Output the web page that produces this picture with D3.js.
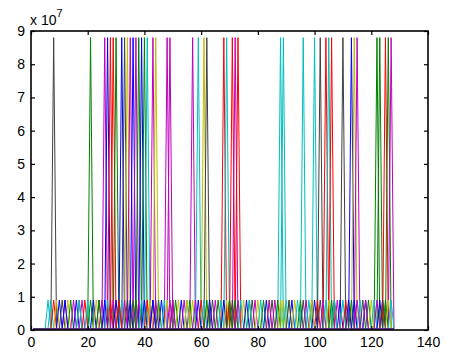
<!DOCTYPE html>
<html>
<head>
<meta charset="utf-8">
<script src="https://cdn.jsdelivr.net/npm/d3@7"></script>
<style>
  body { margin: 0; background: #fff; }
  text { font-family: "Liberation Sans", Arial, sans-serif; }
</style>
</head>
<body>
<div id="plot"></div>
<script>
var svgWidth = 449;
var svgHeight = 354;

var margin = { top: 31, right: 21, bottom: 24, left: 31 };

var chartWidth = svgWidth - margin.left - margin.right;
var chartHeight = svgHeight - margin.top - margin.bottom;

// samples run 1..128
var nSamples = 128;

// tall peaks: position + colour letter (matlab colour order)
var bigX = [8, 21, 26, 27, 28, 29, 30, 32, 33, 34, 35, 36, 37, 38, 39, 40, 41, 43, 44, 48, 49,
  57, 59, 61, 62, 68, 69, 71, 72, 73, 88, 89, 96, 100, 102, 104, 105, 106, 110, 113, 114, 115,
  122, 123, 125, 126, 127];
var bigC = ["k", "g", "m", "b", "r", "r", "g", "b", "k", "y", "m", "b", "m", "g", "b", "g", "c", "m", "y", "m", "m",
  "m", "c", "y", "k", "r", "c", "r", "m", "r", "c", "c", "c", "c", "k", "r", "c", "r", "k", "b", "y", "m",
  "g", "g", "r", "g", "m"];
var bigPeak = 8.8e7;

// small peaks that fill the band near 1e7
var smallX = [6, 7, 8, 9, 10, 11, 12, 13, 14, 15, 16, 17, 18, 19, 20, 21, 22, 23, 24, 25, 26, 27, 28, 29, 30,
  31, 32, 33, 34, 35, 36, 37, 38, 39, 40, 41, 42, 43, 44, 45, 46, 47, 48, 49, 50, 51, 52, 53, 54, 55,
  56, 57, 58, 59, 60, 61, 62, 63, 64, 65, 66, 67, 68, 69, 70, 71, 72, 73, 74, 75, 76, 77, 78, 79, 80,
  81, 82, 83, 84, 85, 86, 87, 88, 89, 90, 91, 92, 93, 94, 95, 96, 97, 98, 99, 100, 101, 102, 103, 104, 105,
  106, 107, 108, 109, 110, 111, 112, 113, 114, 115, 116, 117, 118, 119, 120, 121, 122, 123, 124, 125, 126, 127,
  12, 17, 24, 31, 36, 43, 50, 55, 63, 70, 77, 84, 91, 99, 107, 112, 118, 124];
var smallC = ["c", "c", "r", "y", "b", "k", "m", "y", "g", "m", "b", "k", "m", "r", "c", "g", "b", "y", "k", "m", "b", "c", "r", "m", "b",
  "g", "c", "m", "k", "b", "y", "g", "m", "c", "b", "r", "y", "k", "m", "g", "b", "c", "y", "m", "k",
  "g", "y", "b", "m", "c", "g", "y", "m", "b", "r", "c", "g", "y", "k", "m", "g", "c", "b", "y", "r",
  "k", "g", "m", "c", "y", "b", "g", "k", "m", "y", "c", "g", "b", "y", "k", "m", "g", "y", "y", "c",
  "y", "b", "y", "c", "g", "k", "m", "c", "g", "b", "r", "k", "m", "c", "y", "g", "k", "m", "b", "c",
  "r", "y", "g", "b", "m", "c", "k", "b", "g", "y", "c", "m", "b", "r", "g", "y", "c",
  "b", "c", "g", "r", "k", "b", "m", "y", "b", "g", "c", "m", "k", "y", "c", "b", "m", "k"];
var smallPeak = 0.9e7;

var baseLevel = 0.03e7;

var colors = { b: "#0000ff", g: "#008000", r: "#ff0000", c: "#00bfbf", m: "#bf00bf", y: "#bfbf00", k: "#404040" };

var xTicks = [0, 20, 40, 60, 80, 100, 120, 140];
var yTicks = [0, 1, 2, 3, 4, 5, 6, 7, 8, 9];

// one series per peak, flat at baseLevel elsewhere
function makeSeries(pos, peak) {
  var pts = [];
  for (var i = 1; i <= nSamples; i++) {
    pts.push({ x: i, y: i === pos ? peak : baseLevel });
  }
  return pts;
}

var series = [];
bigX.forEach(function(p, i) { series.push({ color: colors[bigC[i]], values: makeSeries(p, bigPeak) }); });
smallX.forEach(function(p, i) { series.push({ color: colors[smallC[i]], values: makeSeries(p, smallPeak) }); });

var svg = d3.select("#plot")
  .append("svg")
  .attr("width", svgWidth)
  .attr("height", svgHeight);

svg.append("rect").attr("width", svgWidth).attr("height", svgHeight).attr("fill", "#fff");

var chartGroup = svg.append("g")
  .attr("transform", `translate(${margin.left}, ${margin.top})`);

var xScale = d3.scaleLinear().domain([0, 140]).range([0, chartWidth]);
var yScale = d3.scaleLinear().domain([0, 9e7]).range([chartHeight, 0]);

chartGroup.append("clipPath").attr("id", "clip")
  .append("rect").attr("width", chartWidth).attr("height", chartHeight);

var line = d3.line()
  .x(d => xScale(d.x))
  .y(d => yScale(d.y));

chartGroup.append("g")
  .attr("clip-path", "url(#clip)")
  .selectAll("path")
  .data(series)
  .enter()
  .append("path")
  .attr("d", d => line(d.values))
  .attr("fill", "none")
  .attr("stroke", d => d.color)
  .attr("stroke-width", 1);

// axes, ticks pointing inward like matlab
var xAxis = d3.axisBottom(xScale).tickValues(xTicks).tickSizeInner(-4).tickSizeOuter(0).tickPadding(7);
var yAxis = d3.axisLeft(yScale).tickValues(yTicks.map(v => v * 1e7)).tickFormat(v => v / 1e7)
  .tickSizeInner(-4).tickSizeOuter(0).tickPadding(6);
var xTop = d3.axisTop(xScale).tickValues(xTicks).tickSizeInner(-4).tickSizeOuter(0).tickFormat("");
var yRight = d3.axisRight(yScale).tickValues(yTicks.map(v => v * 1e7)).tickSizeInner(-4).tickSizeOuter(0).tickFormat("");

var gx = chartGroup.append("g").attr("transform", `translate(0, ${chartHeight})`).call(xAxis);
var gy = chartGroup.append("g").call(yAxis);
var gt = chartGroup.append("g").call(xTop);
var gr = chartGroup.append("g").attr("transform", `translate(${chartWidth}, 0)`).call(yRight);

[gx, gy, gt, gr].forEach(function(g) {
  g.select(".domain").remove();
  g.selectAll("line").attr("stroke", "#000").attr("stroke-width", 1.2);
  g.selectAll("text").attr("font-size", 14).attr("fill", "#000")
    .style("font-family", "'Liberation Sans', Arial, sans-serif");
});

chartGroup.append("rect")
  .attr("width", chartWidth)
  .attr("height", chartHeight)
  .attr("fill", "none")
  .attr("stroke", "#000")
  .attr("stroke-width", 1.6);

// exponent label
var expLabel = svg.append("text")
  .attr("x", 30)
  .attr("y", 25)
  .attr("font-size", 14)
  .attr("fill", "#000");
expLabel.append("tspan").text("x 10");
expLabel.append("tspan").attr("dy", -8).attr("font-size", 11).text("7");
</script>
</body>
</html>
